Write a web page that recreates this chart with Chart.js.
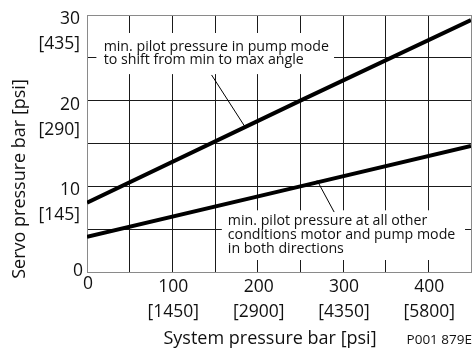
<!DOCTYPE html>
<html>
<head>
<meta charset="utf-8">
<script src="https://cdn.jsdelivr.net/npm/chart.js@4.4.1/dist/chart.umd.min.js"></script>
<style>
    html, body { margin: 0; padding: 0; background: #fff; }
    #wrap { width: 475px; height: 352px; position: relative; }
</style>
</head>
<body>
<div id="wrap"><canvas id="chart"></canvas></div>
<script>
// System pressure in bar (x) and servo pressure in bar (y)
const systemBar = [0, 250, 450];
const servoPumpMode = [8.1, 20.0, 29.4];
const servoOther = [4.1, 10.0, 14.7];

// tick labels
const xTickBar = [0, 100, 200, 300, 400];
const xTickPsi = ['', '[1450]', '[2900]', '[4350]', '[5800]'];
const yTickBar = [0, 10, 20, 30];
const yTickPsi = ['', '[145]', '[290]', '[435]'];

const xTitle = 'System pressure bar [psi]';
const yTitle = 'Servo pressure bar [psi]';
const figCode = 'P001 879E';

const notePump = ['min. pilot pressure in pump mode', 'to shift from min to max angle'];
const noteOther = ['min. pilot pressure at all other', 'conditions motor and pump mode', 'in both directions'];

const FONT = '"Open Sans", "DejaVu Sans", sans-serif';
const GRID_DARK = '#1a1a1a';
const GRID_EDGE = '#8a8a8a';

// annotation boxes, in data units
const notes = [
    { lines: notePump, box: [11, 289.5, 23.1, 27.9], textX: 19.5, textY: 26.3, leader: [146, 23.0, 184.8, 17.0] },
    { lines: noteOther, box: [158, 443, 1.4, 7.2], textX: 165, textY: 5.9, leader: [269.6, 10.7, 289.6, 7.0] }
];

const notesPlugin = {
    id: 'notes',
    beforeDatasetsDraw(chart) {
        const { ctx, scales: { x, y } } = chart;
        ctx.save();
        notes.forEach(n => {
            const [x0, x1, y0, y1] = n.box;
            ctx.fillStyle = '#fff';
            ctx.fillRect(x.getPixelForValue(x0), y.getPixelForValue(y1),
                x.getPixelForValue(x1) - x.getPixelForValue(x0),
                y.getPixelForValue(y0) - y.getPixelForValue(y1));
            const [lx0, ly0, lx1, ly1] = n.leader;
            ctx.strokeStyle = '#000';
            ctx.lineWidth = 1;
            ctx.beginPath();
            ctx.moveTo(x.getPixelForValue(lx0), y.getPixelForValue(ly0));
            ctx.lineTo(x.getPixelForValue(lx1), y.getPixelForValue(ly1));
            ctx.stroke();
            ctx.fillStyle = '#111';
            ctx.font = '14.2px ' + FONT;
            ctx.textAlign = 'left';
            ctx.textBaseline = 'middle';
            const tx = x.getPixelForValue(n.textX);
            const ty = y.getPixelForValue(n.textY);
            n.lines.forEach((line, i) => ctx.fillText(line, tx, ty + i * 13.6));
        });
        ctx.restore();
    },
    afterDraw(chart) {
        const { ctx, scales: { x, y } } = chart;
        ctx.save();
        ctx.fillStyle = '#111';
        ctx.font = '17.5px ' + FONT;
        ctx.textBaseline = 'middle';

        // y tick labels
        ctx.textAlign = 'right';
        yTickBar.forEach((v, i) => {
            const py = y.getPixelForValue(v);
            if (v === 0) {
                ctx.fillText('0', x.left - 4, py - 1);
                return;
            }
            ctx.fillText(String(v), x.left - 7, py + 4);
            ctx.fillText(yTickPsi[i], x.left - 7, py + 29);
        });

        // x tick labels
        ctx.textAlign = 'center';
        xTickBar.forEach((v, i) => {
            const px = x.getPixelForValue(v);
            if (v === 0) {
                ctx.fillText('0', px + 1, y.bottom + 12);
                return;
            }
            ctx.fillText(String(v), px + 1, y.bottom + 15);
            ctx.fillText(xTickPsi[i], px + 1, y.bottom + 40);
        });

        // axis titles
        ctx.font = '18px ' + FONT;
        ctx.fillText(xTitle, 270, 339);
        ctx.save();
        ctx.translate(20, 179);
        ctx.rotate(-Math.PI / 2);
        ctx.fillText(yTitle, 0, 0);
        ctx.restore();

        ctx.font = '13.5px ' + FONT;
        ctx.textAlign = 'right';
        ctx.fillText(figCode, 472, 340);
        ctx.restore();
    }
};

function toPoints(xs, ys) {
    return xs.map((v, i) => ({ x: v, y: ys[i] }));
}

new Chart(document.getElementById('chart'), {
    type: 'scatter',
    data: {
        datasets: [
            {
                data: toPoints(systemBar, servoPumpMode),
                showLine: true,
                borderColor: '#000',
                borderWidth: 4,
                pointRadius: 0,
                tension: 0
            },
            {
                data: toPoints(systemBar, servoOther),
                showLine: true,
                borderColor: '#000',
                borderWidth: 4,
                pointRadius: 0,
                tension: 0
            }
        ]
    },
    options: {
        responsive: true,
        maintainAspectRatio: false,
        animation: false,
        layout: { padding: { left: 87, top: 15, right: 4, bottom: 80 } },
        plugins: {
            legend: { display: false },
            tooltip: { enabled: false }
        },
        scales: {
            x: {
                type: 'linear',
                min: 0,
                max: 450,
                ticks: { display: false, stepSize: 50 },
                grid: {
                    drawTicks: false,
                    lineWidth: 1,
                    color: ctx => (ctx.tick && (ctx.tick.value === 0 || ctx.tick.value === 450)) ? GRID_EDGE : GRID_DARK
                },
                border: { color: GRID_EDGE, width: 1 }
            },
            y: {
                type: 'linear',
                min: 0,
                max: 30,
                ticks: { display: false, stepSize: 5 },
                grid: {
                    drawTicks: false,
                    lineWidth: 1,
                    color: ctx => (ctx.tick && (ctx.tick.value === 0 || ctx.tick.value === 30)) ? GRID_EDGE : GRID_DARK
                },
                border: { color: GRID_EDGE, width: 1 }
            }
        }
    },
    plugins: [notesPlugin]
});
</script>
</body>
</html>
